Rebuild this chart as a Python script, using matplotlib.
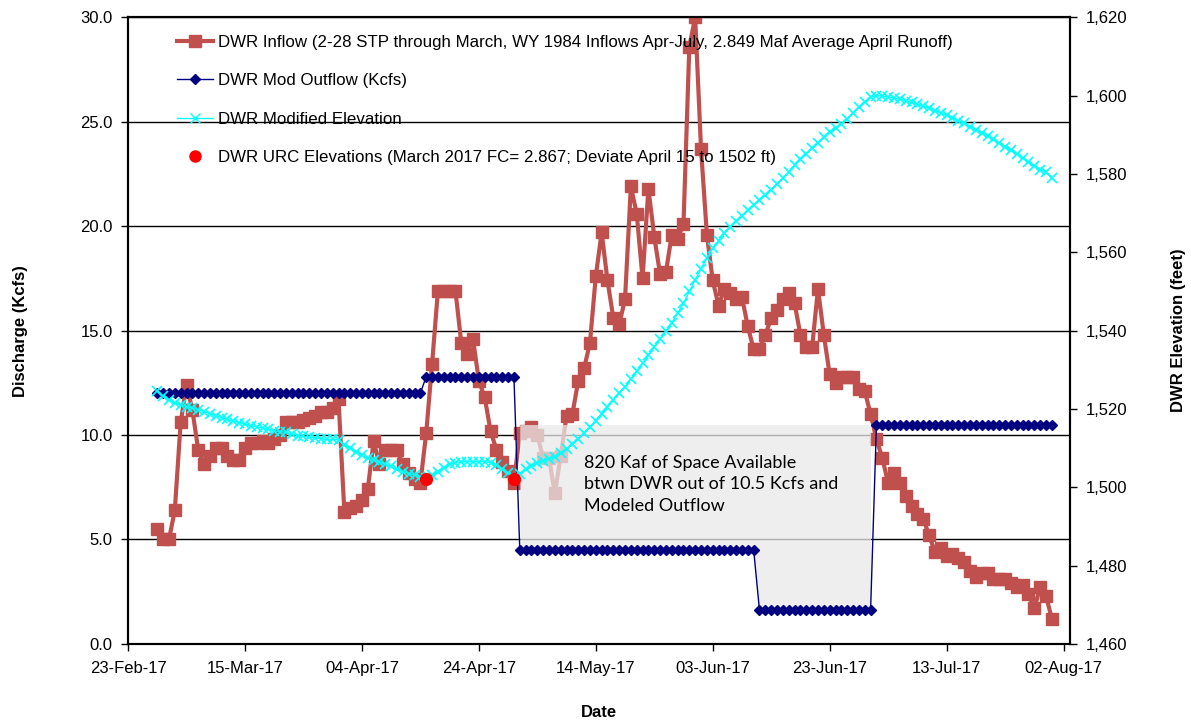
import numpy as np
import pandas as pd
import matplotlib
matplotlib.use("Agg")
from matplotlib import pyplot as plt
import matplotlib.dates as mdates
from matplotlib.lines import Line2D

plt.rcParams["font.family"] = ["Liberation Sans", "DejaVu Sans"]

# daily dates, 28-Feb-17 .. 31-Jul-17
dates = pd.date_range("2017-02-28", "2017-07-31", freq="D")

# DWR inflow (Kcfs)
inflow_feb = [5.5]
inflow_mar = [5.0, 5.0, 6.4, 10.6, 12.4, 11.2, 9.3, 8.6, 9.0, 9.4, 9.4, 9.0, 8.8, 8.8, 9.4, 9.6,
              9.6, 9.7, 9.6, 9.8, 10.0, 10.6, 10.6, 10.6, 10.7, 10.8, 10.9, 11.1, 11.1, 11.3, 11.7]
inflow_apr = [6.3, 6.5, 6.6, 6.9, 7.4, 9.7, 8.6, 9.3, 9.3, 9.3, 8.6, 8.2, 7.9, 7.7, 10.1,
              13.4, 16.9, 16.9, 16.9, 16.9, 14.4, 13.9, 14.6, 12.6, 11.8, 10.2, 9.3, 8.7, 8.3, 7.7]
inflow_may = [10.1, 10.2, 10.4, 10.0, 8.9, 8.9, 7.2, 9.0, 10.9, 11.0, 12.6, 13.2, 14.4, 17.6, 19.7,
              17.4, 15.6, 15.3, 16.5, 21.9, 20.6, 17.5, 21.8, 19.5, 17.7, 17.8, 19.6, 19.4, 20.1, 28.6, 30.0]
inflow_jun = [23.7, 19.6, 17.4, 16.2, 17.0, 16.8, 16.5, 16.6, 15.2, 14.1, 14.1, 14.8, 15.6, 16.0, 16.5,
              16.8, 16.3, 14.8, 14.2, 14.2, 17.0, 14.8, 12.9, 12.5, 12.8, 12.8, 12.8, 12.2, 12.1, 11.0]
inflow_jul = [9.8, 8.9, 7.7, 8.2, 7.7, 7.1, 6.6, 6.2, 6.0, 5.2, 4.4, 4.6, 4.2, 4.3, 4.1, 3.9,
              3.5, 3.2, 3.4, 3.4, 3.1, 3.1, 3.1, 2.9, 2.7, 2.8, 2.4, 1.7, 2.7, 2.3, 1.2]
inflow = inflow_feb + inflow_mar + inflow_apr + inflow_may + inflow_jun + inflow_jul

# DWR modelled outflow (Kcfs): flat steps
outflow = [12.0] * 46 + [12.8] * 16 + [4.5] * 41 + [1.6] * 20 + [10.5] * 31

# DWR modified elevation (ft)
elev_feb = [1524.5]
elev_mar = [1523.2, 1522.2, 1521.5, 1521.0, 1520.6, 1520.2, 1519.8, 1519.3, 1518.8, 1518.3, 1517.8,
            1517.3, 1516.9, 1516.5, 1516.1, 1515.7, 1515.4, 1515.1, 1514.8, 1514.4, 1514.2, 1514.0,
            1513.6, 1513.2, 1513.0, 1512.8, 1512.6, 1512.4, 1512.2, 1512.2, 1512.1]
elev_apr = [1510.8, 1510.0, 1509.1, 1508.2, 1507.4, 1506.9, 1506.4, 1505.9, 1505.3, 1504.6, 1504.0,
            1503.5, 1503.1, 1502.6, 1502.3, 1503.0, 1504.0, 1505.0, 1505.9, 1506.3, 1506.5, 1506.5,
            1506.5, 1506.5, 1506.5, 1506.3, 1505.6, 1504.6, 1503.6, 1502.6]
elev_may = [1503.5, 1504.6, 1505.5, 1506.2, 1506.8, 1507.3, 1507.8, 1508.8, 1509.8, 1511.0, 1512.3,
            1513.8, 1515.4, 1517.0, 1518.8, 1520.6, 1522.3, 1524.0, 1525.7, 1527.6, 1529.6, 1531.6,
            1533.7, 1535.8, 1537.8, 1539.9, 1542.0, 1544.4, 1547.0, 1550.0, 1553.0]
elev_jun = [1555.8, 1558.5, 1561.0, 1563.0, 1564.8, 1566.4, 1567.9, 1569.3, 1570.7, 1572.0, 1573.3,
            1574.6, 1576.0, 1577.4, 1578.9, 1580.6, 1582.3, 1583.9, 1585.2, 1586.5, 1588.0, 1589.4,
            1590.7, 1591.8, 1592.8, 1594.0, 1595.5, 1597.0, 1598.4, 1599.6]
elev_jul = [1600.0, 1599.9, 1599.7, 1599.4, 1599.1, 1598.7, 1598.3, 1597.8, 1597.3, 1596.8, 1596.2,
            1595.6, 1595.0, 1594.3, 1593.6, 1592.9, 1592.1, 1591.3, 1590.5, 1589.7, 1588.8, 1587.9,
            1587.0, 1586.1, 1585.1, 1584.1, 1583.1, 1582.1, 1581.1, 1580.4, 1579.0]
elevation = elev_feb + elev_mar + elev_apr + elev_may + elev_jun + elev_jul

# URC elevation points
urc_dates = pd.to_datetime(["2017-04-15", "2017-04-30"])
urc_elev = [1502, 1502]

# space between 10.5 Kcfs and modelled outflow
space_start, space_end = "2017-05-01", "2017-06-30"
space_level = 10.5

labels = [
    "DWR Inflow (2-28 STP through March, WY 1984 Inflows Apr-July, 2.849 Maf Average April Runoff)",
    "DWR Mod Outflow (Kcfs)",
    "DWR Modified Elevation",
    "DWR URC Elevations (March 2017 FC= 2.867; Deviate April 15 to 1502 ft)",
]

inflow_c = "#C0504D"
outflow_c = "#000080"
elev_c = "#00FFFF"
urc_c = "#FF0000"

fig = plt.figure(figsize=(11.91, 7.21), dpi=100)
ax = fig.add_axes([0.1075, 0.107, 0.791, 0.869])
ax2 = ax.twinx()

ax.set_ylim(0, 30)
ax.set_yticks(np.arange(0, 30.1, 5))
ax.yaxis.set_major_formatter(matplotlib.ticker.FormatStrFormatter("%.1f"))
ax.grid(axis="y", color="black", linewidth=1)
ax.set_axisbelow(True)

ax.plot(dates, inflow, color=inflow_c, linewidth=3, marker="s", markersize=8, zorder=2)

mask = (dates >= space_start) & (dates <= space_end)
out_arr = np.array(outflow)
ax.fill_between(dates[mask], out_arr[mask], space_level, color="#e9e9e9", alpha=0.75,
                linewidth=0, zorder=3)
ax.text(pd.Timestamp("2017-05-12"), 7.65,
        "820 Kaf of Space Available\nbtwn DWR out of 10.5 Kcfs and\nModeled Outflow",
        fontsize=13, family=["Lato", "DejaVu Sans"], linespacing=1.42, zorder=4, va="center")

ax.plot(dates, outflow, color=outflow_c, linewidth=1, marker="D", markersize=5, zorder=5)

ax2.set_ylim(1460, 1620)
ax2.set_yticks(np.arange(1460, 1621, 20))
ax2.yaxis.set_major_formatter(matplotlib.ticker.StrMethodFormatter("{x:,.0f}"))
ax2.plot(dates, elevation, color=elev_c, linewidth=1, marker="x", markersize=7, markeredgewidth=1.2)
ax2.plot(urc_dates, urc_elev, linestyle="none", marker="o", markersize=8.5, color=urc_c)

ax.set_xlim(pd.Timestamp("2017-02-23"), pd.Timestamp("2017-08-03 03:00"))
ticks = pd.date_range("2017-02-23", "2017-08-02", freq="20D")
ax.set_xticks(ticks)
ax.xaxis.set_major_formatter(mdates.DateFormatter("%d-%b-%y"))

for a in (ax, ax2):
    a.tick_params(direction="out", length=5, width=1, labelsize=12, color="black", pad=6)
    for s in a.spines.values():
        s.set_linewidth(1.5)
ax.tick_params(axis="x", pad=7)

ax.set_ylabel("Discharge (Kcfs)", fontsize=12, fontweight="bold", labelpad=38)
ax2.set_ylabel("DWR Elevation (feet)", fontsize=12, fontweight="bold", labelpad=32)
ax.set_xlabel("Date", fontsize=12, fontweight="bold", labelpad=21)

handles = [
    Line2D([], [], color=inflow_c, linewidth=3, marker="s", markersize=8),
    Line2D([], [], color=outflow_c, linewidth=1, marker="D", markersize=5),
    Line2D([], [], color=elev_c, linewidth=1, marker="x", markersize=7),
    Line2D([], [], color=urc_c, linestyle="none", marker="o", markersize=8),
]
ax2.legend(handles, labels, loc="upper left", bbox_to_anchor=(0.045, 0.983), frameon=False,
           fontsize=12.2, labelspacing=1.39, handlelength=2.1, handletextpad=0.3,
           borderaxespad=0)

fig.savefig("out.png", dpi=100)
